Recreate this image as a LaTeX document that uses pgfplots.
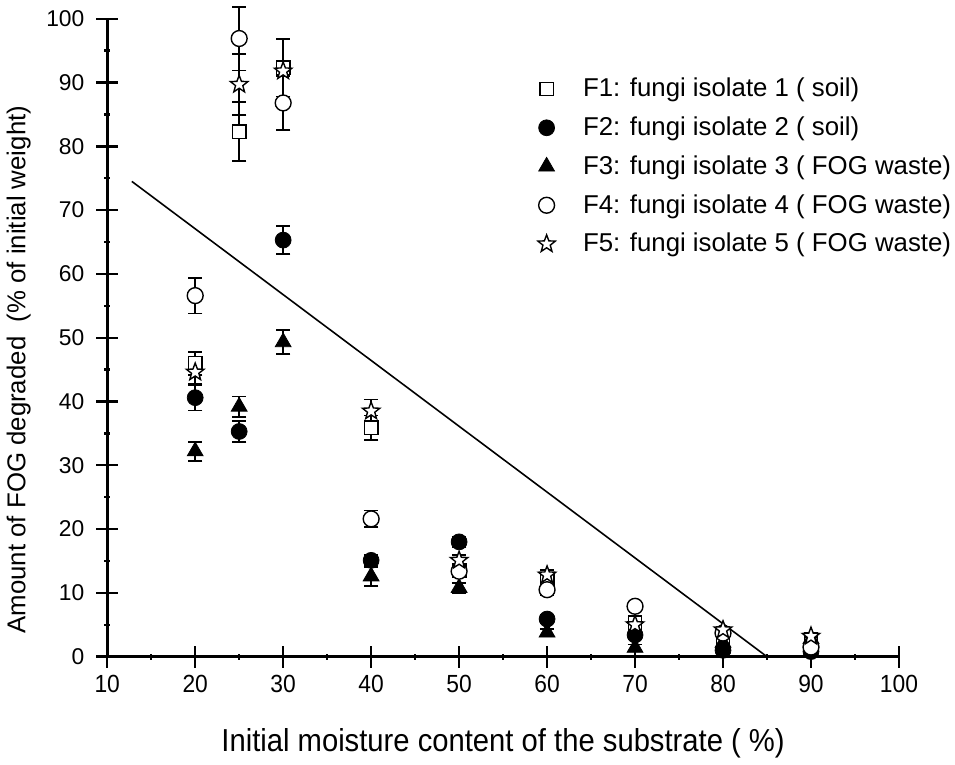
\documentclass[border=0pt]{standalone}
\usepackage{fontspec}
\setmainfont{Liberation Sans}
\newfontfamily\narrowfont[FakeStretch=0.92]{Liberation Sans}
\usepackage{pgfplots}
\pgfplotsset{compat=1.18}

% open five-pointed star
\pgfdeclareplotmark{ostar}{%
  \pgfpathmoveto{\pgfpointpolar{90}{\pgfplotmarksize}}%
  \pgfpathlineto{\pgfpointpolar{126}{0.42\pgfplotmarksize}}%
  \pgfpathlineto{\pgfpointpolar{162}{\pgfplotmarksize}}%
  \pgfpathlineto{\pgfpointpolar{198}{0.42\pgfplotmarksize}}%
  \pgfpathlineto{\pgfpointpolar{234}{\pgfplotmarksize}}%
  \pgfpathlineto{\pgfpointpolar{270}{0.42\pgfplotmarksize}}%
  \pgfpathlineto{\pgfpointpolar{306}{\pgfplotmarksize}}%
  \pgfpathlineto{\pgfpointpolar{342}{0.42\pgfplotmarksize}}%
  \pgfpathlineto{\pgfpointpolar{18}{\pgfplotmarksize}}%
  \pgfpathlineto{\pgfpointpolar{54}{0.42\pgfplotmarksize}}%
  \pgfpathclose
  \pgfusepathqfillstroke
}

\begin{document}
\begin{tikzpicture}
\begin{axis}[
    scale only axis,
    width=399pt, height=321.5pt,
    xmin=10, xmax=100, ymin=0, ymax=100,
    xtick={10,20,...,100}, ytick={0,10,...,100},
    minor x tick num=1, minor y tick num=1,
    axis x line=bottom, axis y line=left,
    axis line style={-, line width=1.4pt},
    tick align=center,
    major tick length=11pt, minor tick length=3pt,
    every tick/.style={line width=1.2pt, black},
    clip=false,
    /pgf/number format/assume math mode=true,
    xticklabel style={font=\narrowfont\fontsize{12.5}{14}\selectfont, yshift=-0.5pt},
    yticklabel style={font=\fontsize{11.5}{12}\selectfont, xshift=-2.5pt},
    xlabel={\narrowfont Initial moisture content of the substrate ( \%)},
    ylabel={Amount of FOG degraded \ (\% of initial weight)},
    xlabel style={font=\fontsize{16}{18}\selectfont, yshift=-11pt},
    ylabel style={font=\fontsize{13}{15}\selectfont, at={(ticklabel cs:0.45)}, yshift=1pt},
    legend style={draw=none, fill=none, inner sep=0pt, outer sep=0pt,
        at={(0.544,0.913)}, anchor=north west,
        font=\fontsize{13}{15}\selectfont, row sep=4.6pt,
        /tikz/every odd column/.append style={column sep=12pt}},
    legend cell align=left,
    error bars/y dir=both, error bars/y explicit,
    error bars/error bar style={line width=0.9pt},
    error bars/error mark options={rotate=90, mark size=3.6pt, line width=0.9pt},
]
% F1 square
\addplot[only marks, mark=square*, mark size=3.4pt, mark options={fill=white, line width=0.7pt}]
coordinates {
(20,46.0) +- (0,1.8)
(25,82.3) +- (0,4.6)
(30,92.3) +- (0,4.5)
(40,35.9) +- (0,1.9)
(50,13.5) +- (0,1.0)
(60,12.0) +- (0,0.8)
(70,5.3) +- (0,0.6)
(80,2.0) +- (0,0.5)
(90,2.0) +- (0,0.5)
};
\addlegendentry{F1: fungi isolate 1 ( soil)}
% F2 filled circle
\addplot[only marks, mark=*, mark size=4pt, mark options={fill=black}]
coordinates {
(20,40.6) +- (0,2.0)
(25,35.3) +- (0,1.7)
(30,65.3) +- (0,2.2)
(40,15.1) +- (0,0.8)
(50,18.0) +- (0,0.8)
(60,5.9) +- (0,0.6)
(70,3.4) +- (0,0.6)
(80,1.0) +- (0,0.5)
(90,0.8) +- (0,0.5)
};
\addlegendentry{F2: fungi isolate 2 ( soil)}
% F3 filled triangle
\addplot[only marks, mark=triangle*, mark size=4.6pt, mark options={fill=black}]
coordinates {
(20,32.2) +- (0,1.5)
(25,39.2) +- (0,1.6)
(30,49.3) +- (0,1.9)
(40,12.6) +- (0,1.5)
(50,10.8) +- (0,0.8)
(60,3.8) +- (0,0.6)
(70,1.4) +- (0,0.5)
(80,2.2) +- (0,0.5)
(90,2.8) +- (0,0.5)
};
\addlegendentry{F3: fungi isolate 3 ( FOG waste)}
% F4 open circle
\addplot[only marks, mark=*, mark size=4pt, mark options={fill=white, line width=0.7pt}]
coordinates {
(20,56.6) +- (0,2.8)
(25,96.9) +- (0,5.0)
(30,86.8) +- (0,4.2)
(40,21.6) +- (0,1.3)
(50,13.4) +- (0,0.8)
(60,10.5) +- (0,0.8)
(70,7.9) +- (0,0.6)
(80,3.7) +- (0,0.5)
(90,1.5) +- (0,0.5)
};
\addlegendentry{F4: fungi isolate 4 ( FOG waste)}
% F5 open star
\addplot[only marks, mark=ostar, mark size=4.6pt, mark options={fill=white, line width=0.7pt}]
coordinates {
(20,44.6) +- (0,1.8)
(25,89.7) +- (0,4.8)
(30,91.8) +- (0,5.0)
(40,38.5) +- (0,1.8)
(50,15.1) +- (0,0.8)
(60,12.8) +- (0,0.8)
(70,5.0) +- (0,0.6)
(80,4.2) +- (0,0.5)
(90,3.2) +- (0,0.5)
};
\addlegendentry{F5: fungi isolate 5 ( FOG waste)}
% fitted line
\addplot[no marks, line width=0.8pt, forget plot] coordinates {(12.8,74.5) (85,0)};
\end{axis}
\end{tikzpicture}
\end{document}
